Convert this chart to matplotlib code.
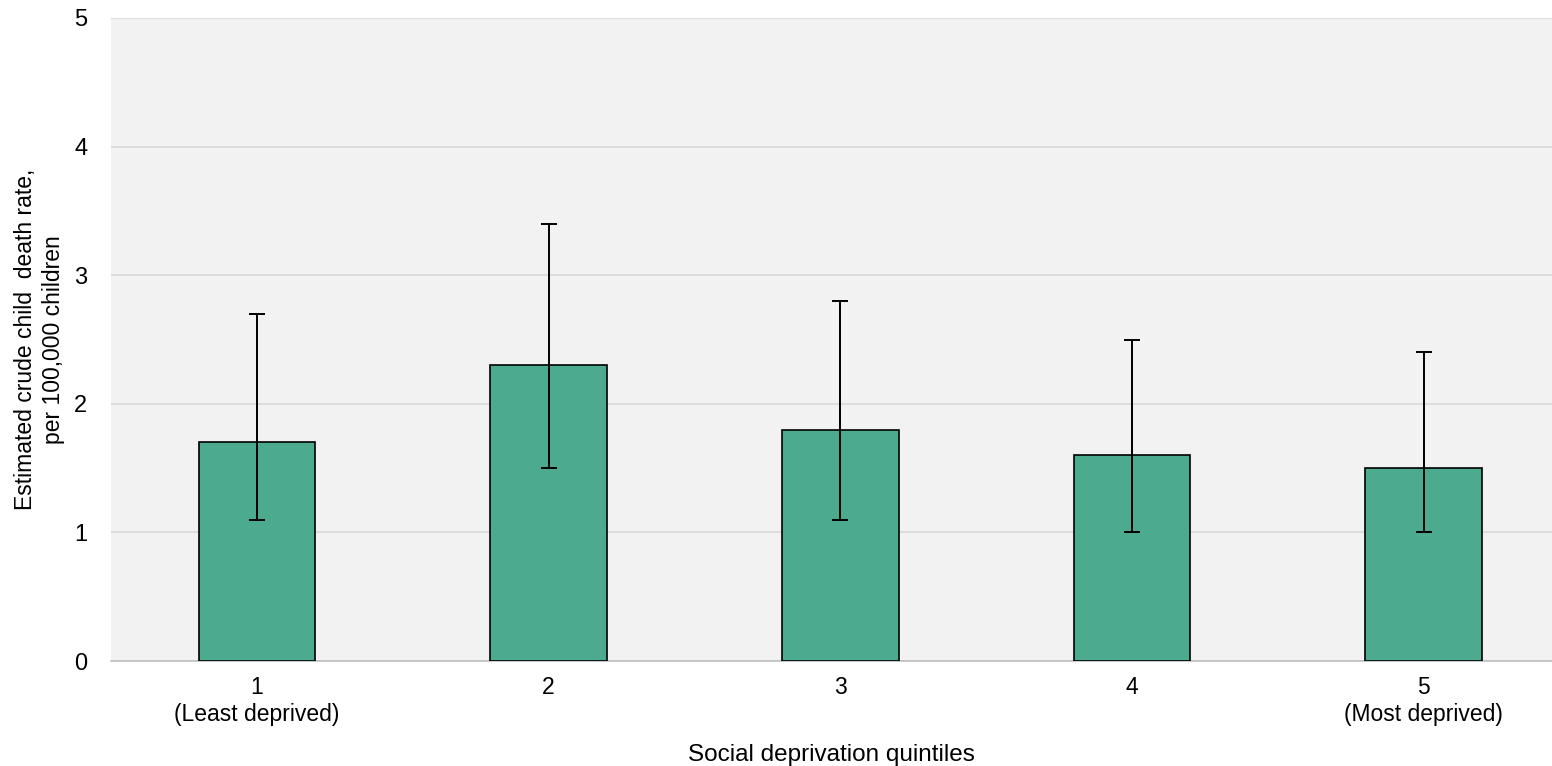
import numpy as np
import matplotlib.pyplot as plt

plt.rcParams['font.family'] = ['Liberation Sans', 'DejaVu Sans']

# Data
categories = ['1\n(Least deprived)', '2', '3', '4', '5\n(Most deprived)']
rates = [1.7, 2.3, 1.8, 1.6, 1.5]
ci_low = [1.1, 1.5, 1.1, 1.0, 1.0]
ci_high = [2.7, 3.4, 2.8, 2.5, 2.4]

x = np.arange(len(categories))
yerr = [np.array(rates) - np.array(ci_low), np.array(ci_high) - np.array(rates)]

fig = plt.figure(figsize=(15.52, 7.66), dpi=100)
ax = fig.add_axes([111 / 1552, 105 / 766, 1441 / 1552, 643 / 766])
ax.set_facecolor('#f2f2f2')

ax.bar(x, rates, width=0.4, color='#4caa8f', edgecolor='black', linewidth=1.2, zorder=3)
ax.errorbar(x, rates, yerr=yerr, fmt='none', ecolor='black', elinewidth=1.4,
            capsize=6, capthick=1.4, zorder=4)

ax.set_ylim(0, 5)
ax.set_xlim(-0.5, 4.44)
ax.set_yticks(range(0, 6))
ax.set_xticks(x)
ax.set_xticklabels(categories, fontsize=16.5, linespacing=1.2)
ax.tick_params(axis='y', labelsize=17, length=0, pad=17)
ax.tick_params(axis='x', length=0, pad=11)

ax.grid(axis='y', color='#d9d9d9', linewidth=1.2, zorder=0)
ax.set_axisbelow(True)
for s in ['top', 'right', 'left']:
    ax.spines[s].set_visible(False)
ax.spines['bottom'].set_color('#bfbfbf')
ax.spines['bottom'].set_linewidth(1.2)

ax.set_xlabel('Social deprivation quintiles', fontsize=17.5, labelpad=13)
ax.set_ylabel('Estimated crude child  death rate,\nper 100,000 children', fontsize=16.5,
              labelpad=7, linespacing=1.25)

fig.savefig('out.png', dpi=100)
